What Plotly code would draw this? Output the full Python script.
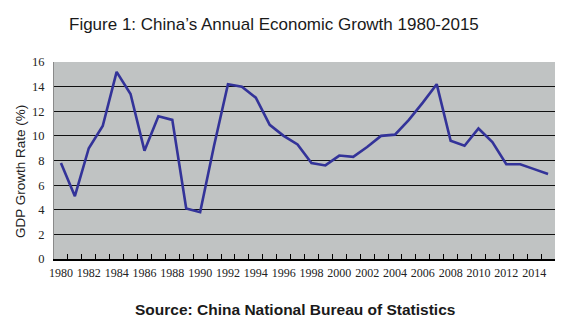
import plotly.graph_objects as go

# Annual real GDP growth rate of China, 1980-2015 (%)
years = list(range(1980, 2016))
growth = [7.8, 5.1, 9.0, 10.8, 15.2, 13.4, 8.8, 11.6, 11.3, 4.1,
          3.8, 9.2, 14.2, 14.0, 13.1, 10.9, 10.0, 9.3, 7.8, 7.6,
          8.4, 8.3, 9.1, 10.0, 10.1, 11.3, 12.7, 14.2, 9.6, 9.2,
          10.6, 9.5, 7.7, 7.7, 7.3, 6.9]

y_ticks = list(range(0, 17, 2))
x_label_years = list(range(1980, 2015, 2))

W, H = 562, 329
L, R, T, B = 54, 7, 62, 70

fig = go.Figure()
fig.add_trace(go.Scatter(
    x=years, y=growth, mode="lines",
    line=dict(color="#333399", width=2.6),
    hoverinfo="x+y", showlegend=False,
))
# invisible trace on the label axis so it is drawn
fig.add_trace(go.Scatter(x=[years[0]], y=[growth[0]], xaxis="x2",
                         mode="markers", marker=dict(opacity=0),
                         hoverinfo="skip", showlegend=False))

tick_font = dict(family="Liberation Serif", size=12.5, color="#222222")

fig.update_layout(
    width=W, height=H,
    margin=dict(l=L, r=R, t=T, b=B),
    paper_bgcolor="white",
    plot_bgcolor="#C0C3C3",
    xaxis=dict(
        range=[1979.5, 2015.5],
        tickmode="array",
        tickvals=[y - 0.5 for y in years] + [2015.5],
        showticklabels=False,
        ticks="inside", ticklen=5, tickcolor="black", tickwidth=1,
        showgrid=False, zeroline=False,
        showline=True, linecolor="black", linewidth=1.5,
        fixedrange=True,
    ),
    xaxis2=dict(
        overlaying="x", matches="x", side="bottom",
        tickmode="array",
        tickvals=x_label_years,
        ticktext=[str(y) for y in x_label_years],
        ticks="", showgrid=False, zeroline=False, showline=False,
        tickfont=dict(family="Liberation Serif", size=12, color="#222222"),
        ticklabelstandoff=5,
    ),
    yaxis=dict(
        range=[0, 16],
        tickmode="array", tickvals=y_ticks,
        tickfont=tick_font,
        ticks="", ticklabelstandoff=6,
        showgrid=True, gridcolor="#101010", gridwidth=1,
        zeroline=False,
        showline=True, linecolor="#8a8a8a", linewidth=1,
        fixedrange=True,
    ),
    annotations=[
        dict(text="Figure 1: China\u2019s Annual Economic Growth 1980-2015",
             xref="paper", yref="paper",
             x=(274 - L) / (W - L - R), y=1 + (T - 24) / (H - T - B),
             xanchor="center", yanchor="middle", showarrow=False,
             font=dict(family="Liberation Sans", size=17, color="#1a1a1a")),
        dict(text="GDP Growth Rate (%)",
             xref="paper", yref="paper",
             x=-(L - 20) / (W - L - R), y=1 - (172 - T) / (H - T - B),
             xanchor="center", yanchor="middle", textangle=-90,
             showarrow=False,
             font=dict(family="Liberation Sans", size=13.5, color="#222222")),
        dict(text="<b>Source: China National Bureau of Statistics</b>",
             xref="paper", yref="paper",
             x=(295 - L) / (W - L - R), y=-(309 - (H - B)) / (H - T - B),
             xanchor="center", yanchor="middle", showarrow=False,
             font=dict(family="Liberation Sans", size=15.5, color="#1a1a1a")),
    ],
)

fig.write_html("out.html")
